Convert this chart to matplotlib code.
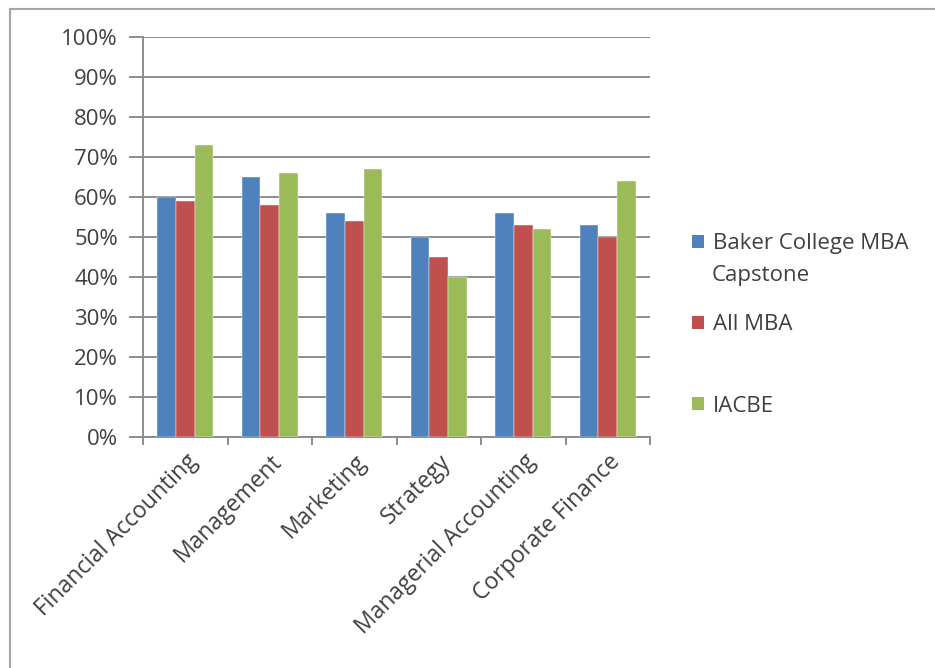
import numpy as np
import matplotlib
matplotlib.use("Agg")
import matplotlib.pyplot as plt
from matplotlib.patches import Patch
from matplotlib.lines import Line2D

categories = ["Financial Accounting", "Management", "Marketing", "Strategy",
              "Managerial Accounting", "Corporate Finance"]
baker = [60, 65, 56, 50, 56, 53]
all_mba = [59, 58, 54, 45, 53, 50]
iacbe = [73, 66, 67, 40, 52, 64]
series_names = ["Baker College MBA", "All MBA", "IACBE"]
colors = ["#4F81BD", "#C0504D", "#9BBB59"]

plt.rcParams['font.family'] = ['Open Sans', 'DejaVu Sans']
txt_color = "#404040"
grid_color = "#8C8C8C"
fs = 16

W, H = 935, 668
fig = plt.figure(figsize=(W / 100, H / 100), dpi=100)
ax = fig.add_axes([143 / W, 1 - 437 / H, 507 / W, 400 / H])

x = np.arange(len(categories))
w = 1 / 4.5
for i, vals in enumerate([baker, all_mba, iacbe]):
    ax.bar(x + (i - 1) * w, vals, width=w, color=colors[i], zorder=3,
           edgecolor='white', linewidth=0.3)

ax.set_xlim(-0.5, len(categories) - 0.5)
ax.set_ylim(0, 100)
ax.set_yticks(np.arange(0, 101, 10))
ax.set_yticklabels([f"{v}%" for v in range(0, 101, 10)], fontsize=fs, color=txt_color)
ax.yaxis.grid(True, color=grid_color, linewidth=1.4, zorder=0)
ax.tick_params(axis='y', length=10, width=1.4, color=grid_color, pad=8)

ax.set_xticks(x)
ax.set_xticklabels(categories, rotation=45, ha='right', rotation_mode='anchor',
                   fontsize=16.5, color=txt_color)
ax.set_xticks(np.arange(-0.5, len(categories), 1), minor=True)
ax.tick_params(axis='x', which='major', length=0, pad=9)
ax.tick_params(axis='x', which='minor', length=6, width=1.4, color=grid_color)

for s in ['top', 'right']:
    ax.spines[s].set_visible(False)
for s in ['left', 'bottom']:
    ax.spines[s].set_color(grid_color)
    ax.spines[s].set_linewidth(1.4)

# legend entries, placed one by one like the spreadsheet layout
entry_y = [244, 325, 406]
for name, c, yy in zip(series_names, colors, entry_y):
    leg = fig.legend([Patch(facecolor=c, edgecolor='none')], [name],
                     loc='center left', bbox_to_anchor=(692 / W, 1 - yy / H),
                     frameon=False, fontsize=fs, borderpad=0, borderaxespad=0,
                     handlelength=0.55, handleheight=0.55, handletextpad=0.38)
    leg.get_texts()[0].set_color(txt_color)
fig.text(712 / W, 1 - 276 / H, "Capstone", fontsize=fs, color=txt_color,
         va='center', ha='left')

# outer chart border
fig.add_artist(Line2D([10 / W, 10 / W], [0, 1 - 9 / H], transform=fig.transFigure,
                      color="#A6A6A6", linewidth=1.5))
fig.add_artist(Line2D([10 / W, 1], [1 - 9 / H, 1 - 9 / H], transform=fig.transFigure,
                      color="#A6A6A6", linewidth=1.5))

fig.savefig("out.png", dpi=100)
